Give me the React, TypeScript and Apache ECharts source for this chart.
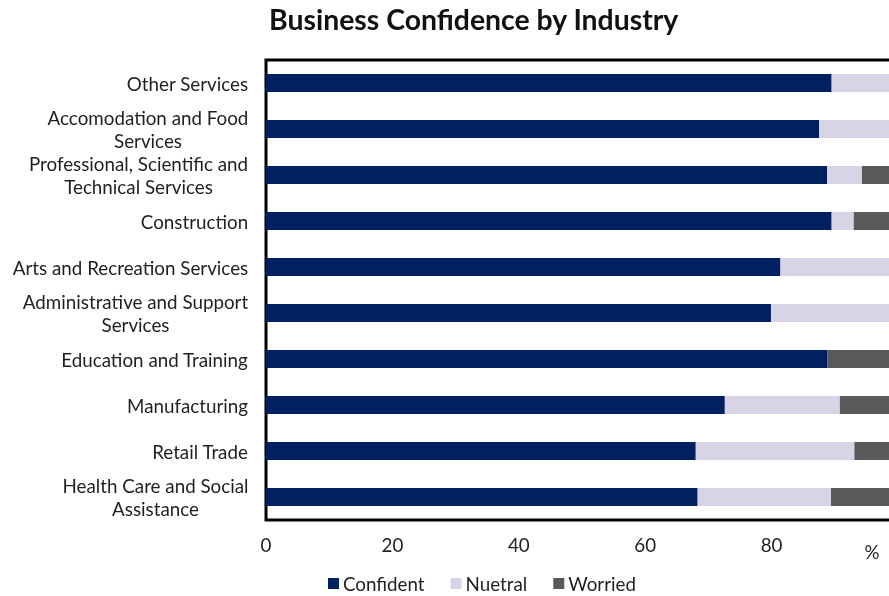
import React, { useEffect, useRef } from "react";
import * as echarts from "echarts";

const categories = [
  "Other Services",
  "Accomodation and Food\nServices",
  "Professional, Scientific and\nTechnical Services",
  "Construction",
  "Arts and Recreation Services",
  "Administrative and Support\nServices",
  "Education and Training",
  "Manufacturing",
  "Retail Trade",
  "Health Care and Social\nAssistance",
];
const confident = [89.5, 87.5, 88.8, 89.5, 81.4, 79.9, 88.8, 72.6, 68.0, 68.3];
const neutral = [10.5, 12.5, 5.5, 3.5, 18.6, 20.1, 0, 18.2, 25.1, 21.1];
const worried = [0, 0, 5.7, 7.0, 0, 0, 11.2, 9.2, 6.9, 10.6];
const xTicks = [0, 20, 40, 60, 80];
const seriesNames = ["Confident", "Nuetral", "Worried"];

const FONT = "Lato";
const TEXT = "#1f1f1f";
const FS = 18.8;

function measure(text: string, size: number): number {
  const c = document.createElement("canvas");
  const ctx = c.getContext("2d");
  if (!ctx) return text.length * size * 0.5;
  ctx.font = `${size}px ${FONT}`;
  return ctx.measureText(text).width;
}

export default function App() {
  const ref = useRef<HTMLDivElement>(null);
  useEffect(() => {
    if (!ref.current) return;
    const chart = echarts.init(ref.current, undefined, { renderer: "svg" });
    const rich: Record<string, any> = {};
    categories.forEach((c, i) => {
      const w = Math.max(...c.split("\n").map((l) => measure(l, FS)));
      rich["r" + i] = {
        width: Math.ceil(w) + 1,
        align: "center",
        fontSize: FS,
        fontFamily: FONT,
        color: TEXT,
        lineHeight: 23,
      };
    });
    chart.setOption({
      animation: false,
      title: {
        text: "Business Confidence by Industry",
        left: 264,
        top: 0,
        textStyle: { fontFamily: FONT, fontWeight: "bold", fontSize: 28.4, color: "#111" },
      },
      legend: {
        data: seriesNames,
        left: 328,
        top: 574,
        padding: 0,
        itemWidth: 11,
        itemHeight: 11,
        itemGap: 26,
        icon: "rect",
        textStyle: { fontFamily: FONT, fontSize: FS, color: TEXT, padding: [0, 0, 0, -1] },
      },
      grid: {
        left: 266,
        right: -9,
        top: 60,
        bottom: 76,
        outerBoundsMode: "none",
        containLabel: false,
        show: true,
        borderColor: "#000",
        borderWidth: 3,
        backgroundColor: "transparent",
      },
      xAxis: {
        type: "value",
        min: 0,
        max: 100,
        interval: 20,
        axisLine: { show: false },
        axisTick: { show: false },
        splitLine: { show: false },
        axisLabel: {
          margin: 15,
          fontFamily: FONT,
          fontSize: FS,
          color: TEXT,
          formatter: (v: number) => (xTicks.includes(v) ? String(v) : ""),
        },
      },
      yAxis: {
        type: "category",
        data: categories,
        inverse: true,
        axisLine: { show: false },
        axisTick: { show: false },
        splitLine: { show: false },
        axisLabel: {
          margin: 17,
          align: "right",
          formatter: (v: string, i: number) =>
            v
              .split("\n")
              .map((l) => `{r${i}|${l}}`)
              .join("\n"),
          rich,
        },
      },
      graphic: [
        {
          type: "text",
          x: 872,
          y: 551,
          style: {
            text: "%",
            fontFamily: FONT,
            fontSize: FS,
            fill: TEXT,
            align: "center",
            verticalAlign: "middle",
          },
        },
      ],
      series: [
        { name: seriesNames[0], data: confident, color: "#002060" },
        { name: seriesNames[1], data: neutral, color: "#D8D4E6" },
        { name: seriesNames[2], data: worried, color: "#595959" },
      ].map((s) => ({
        ...s,
        type: "bar",
        stack: "total",
        barWidth: 18,
        itemStyle: { color: s.color },
      })),
    });
    return () => chart.dispose();
  }, []);
  return (
    <div
      ref={ref}
      style={{ position: "fixed", left: 0, top: 0, width: 889, height: 596 }}
    />
  );
}
